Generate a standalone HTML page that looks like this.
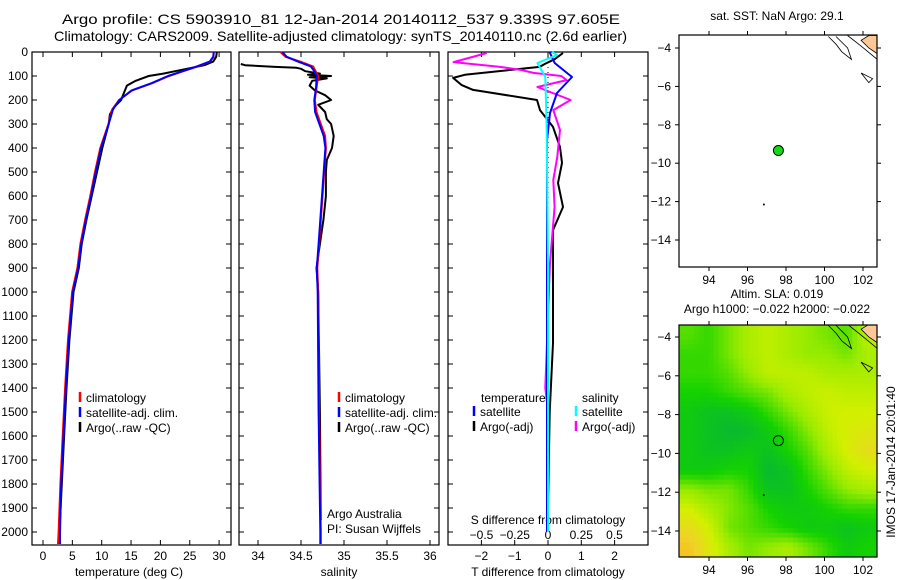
<!DOCTYPE html>
<html><head><meta charset="utf-8"><style>
html,body{margin:0;padding:0;background:#fff;}
svg{display:block;font-family:"Liberation Sans",sans-serif;font-size:12px;}
</style></head><body>
<svg id="fig" width="900" height="580" viewBox="0 0 900 580">
<g>
<text x="62" y="24" font-size="14" textLength="558" lengthAdjust="spacingAndGlyphs">Argo profile: CS 5903910_81 12-Jan-2014 20140112_537 9.339S 97.605E</text>
<text x="54" y="41" font-size="14" textLength="573" lengthAdjust="spacingAndGlyphs">Climatology: CARS2009. Satellite-adjusted climatology: synTS_20140110.nc (2.6d earlier)</text>
</g>
</svg>
<script>
// ---- data ----
const tempClimDepth=[0,20,40,60,80,100,130,160,200,240,300,400,500,600,700,800,900,1000,1200,1400,1600,1800,2000,2050];
const tempClimVals=[29.2,29.2,28.6,26.5,24,21.6,18.7,15.3,13.1,11.9,11.3,9.9,9.0,8.2,7.3,6.5,6.0,5.1,4.4,3.9,3.5,3.1,2.8,2.7];
const tempSatVals=[29.1,29.0,28.4,26.2,23.8,21.3,18.5,15.1,13.0,11.9,11.2,9.9,9.0,8.2,7.3,6.5,6.0,5.1,4.4,3.9,3.5,3.1,2.9,2.9];
const tempArgoDepth=[0,20,40,55,70,80,90,100,120,140,170,200,230,260,300,400,500,600,700,800,900,1000,1200,1400,1600,1800,1950];
const tempArgoVals=[29.6,29.5,29.0,27.5,24.5,22.5,20.5,18.0,15.8,14.3,13.8,13.3,12.1,11.4,11.2,10.1,9.2,8.3,7.4,6.6,6.1,5.2,4.5,4.0,3.6,3.2,2.9];
const salClimDepth=[0,20,40,60,80,100,150,200,250,300,350,400,500,600,700,800,900,1000,1500,2000,2050];
const salClimVals=[34.26,34.32,34.49,34.64,34.67,34.70,34.68,34.66,34.68,34.73,34.78,34.79,34.77,34.75,34.73,34.71,34.69,34.70,34.71,34.73,34.73];
const salSatVals=[34.29,34.34,34.47,34.62,34.66,34.69,34.68,34.66,34.67,34.72,34.77,34.79,34.77,34.75,34.73,34.71,34.69,34.70,34.71,34.73,34.73];
const salArgoDepth=[50,55,62,66,70,80,90,95,100,105,110,120,140,160,180,200,220,250,280,300,350,400,450,500,600,700,800,900,1000,1500,1950];
const salArgoVals=[33.8,33.85,34.2,34.45,34.5,34.55,34.72,34.58,34.85,34.6,34.8,34.63,34.6,34.66,34.78,34.85,34.7,34.78,34.8,34.85,34.88,34.86,34.8,34.79,34.79,34.76,34.72,34.68,34.70,34.72,34.73];
const dTSatDepth=[0,4,46,104,171,254,367,1000,2000];
const dTSatVals=[0.05,0.06,0.2,0.72,0.27,0.06,-0.03,-0.03,-0.03];
const dTArgoDepth=[4,30,50,62,80,95,108,137,158,200,242,312,396,462,546,646,742,1021,1212,1500,1900];
const dTArgoVals=[0.45,0.2,-0.1,-0.25,-1.5,-2.5,-2.85,-2.6,-2.25,-0.33,-0.24,0.15,0.36,0.42,0.3,0.45,0.15,0.15,0.15,0.05,0.0];
const dSArgoDepth=[4,42,62,75,87,100,117,146,200,242,325,437,533,646,879,1100,1400,1450,1500];
const dSArgoVals=[-0.46,-0.71,-0.36,-0.2,-0.11,0.1,0.14,-0.08,0.17,0.04,0.09,0.07,0.04,0.05,0.015,0.0,-0.02,-0.01,0.0];
const dSSatDepth=[0,12,46,104,325,900,2000];
const dSSatVals=[0.03,0.07,-0.08,-0.02,-0.01,0.0,0.0];
const depthTicks=[0,100,200,300,400,500,600,700,800,900,1000,1100,1200,1300,1400,1500,1600,1700,1800,1900,2000];
const tempTicks=[0,5,10,15,20,25,30];
const salTicks=[34,34.5,35,35.5,36];
const salTickLabels=["34","34.5","35","35.5","36"];
const dTTicks=[-2,-1,0,1,2];
const dSTicks=[-0.5,-0.25,0,0.25,0.5];
const dSTickLabels=["-0.5","-0.25","0","0.25","0.5"];
const lonTicks=[94,96,98,100,102];
const latTicks=[-4,-6,-8,-10,-12,-14];
const argoLon=97.605, argoLat=-9.339;
const slaGrid=[
[.35,.3,.4,.5,.55,.5,.45,.4,.35,.55],
[.3,.3,.4,.5,.55,.5,.45,.45,.4,.5],
[.3,.3,.35,.45,.55,.55,.55,.5,.5,.5],
[.25,.25,.3,.35,.4,.5,.55,.58,.55,.55],
[.2,.15,.15,.2,.3,.4,.5,.58,.6,.6],
[.2,.15,.1,.12,.2,.3,.42,.55,.62,.65],
[.2,.15,.15,.2,.15,.25,.35,.5,.62,.7],
[.2,.2,.25,.25,.1,.15,.3,.42,.55,.6],
[.45,.4,.4,.3,.15,.15,.25,.35,.45,.5],
[.6,.5,.42,.35,.25,.2,.2,.25,.3,.3],
[.7,.6,.4,.35,.3,.25,.2,.2,.15,.2],
[.8,.65,.5,.4,.45,.5,.4,.3,.2,.25]];

const NS="http://www.w3.org/2000/svg";
const svg=document.getElementById('fig');
function mk(tag,attrs,parent){const e=document.createElementNS(NS,tag);for(const k in attrs)e.setAttribute(k,attrs[k]);(parent||svg).appendChild(e);return e;}
function txt(s,x,y,anchor,parent,size){const t=mk('text',{x:x,y:y,'text-anchor':anchor||'start'},parent);if(size)t.setAttribute('font-size',size);t.textContent=s;return t;}

const yD=d=>52+d*0.24;
const PB=545;
function frame(x0,x1,name){
 const g=mk('g',{});
 
 
 mk('rect',{x:x0,y:52,width:x1-x0,height:PB-52,fill:'none',stroke:'#000','stroke-width':1.2},g);
 depthTicks.forEach(d=>{mk('line',{x1:x0,x2:x0+5,y1:yD(d),y2:yD(d),stroke:'#000'},g);mk('line',{x1:x1-5,x2:x1,y1:yD(d),y2:yD(d),stroke:'#000'},g);});
 return g;
}
function poly(g,xs,ds,fx,color,w,name){
 const pts=xs.map((v,i)=>fx(v).toFixed(1)+','+yD(ds[i]).toFixed(1)).join(' ');
 const p=mk('polyline',{points:pts,fill:'none',stroke:color,'stroke-width':w||2,'stroke-linejoin':'round'},g);
 
 
}
function legend(g,x,y,color,label,name){
 const lg=mk('g',{},g);
 
 
 mk('line',{x1:x,x2:x,y1:y-10,y2:y,stroke:color,'stroke-width':2.5},lg);
 txt(label,x+6,y,'start',lg);
}

// Panel 1 temperature
const xT=t=>43+t*5.87;
const g1=frame(32,231,'temperature-panel');
const yax=mk('g',{});


depthTicks.forEach(d=>txt(String(d),28,yD(d)+4,'end',yax));
tempTicks.forEach(t=>{mk('line',{x1:xT(t),x2:xT(t),y1:52,y2:57,stroke:'#000'},g1);mk('line',{x1:xT(t),x2:xT(t),y1:PB-5,y2:PB,stroke:'#000'},g1);txt(String(t),xT(t),560,'middle',g1);});
txt('temperature (deg C)',129,576,'middle',g1);
poly(g1,tempArgoVals,tempArgoDepth,xT,'#000',2,'temp-argo-line');
poly(g1,tempClimVals,tempClimDepth,v=>xT(v)-0.8,'#f00',2,'temp-climatology-line');
poly(g1,tempSatVals,tempClimDepth,xT,'#00f',2,'temp-satellite-line');
legend(g1,80,402,'#f00','climatology','legend-climatology');
legend(g1,80,417,'#00f','satellite-adj. clim.','legend-satellite');
legend(g1,80,432,'#000','Argo(..raw -QC)','legend-argo');

// Panel 2 salinity
const xS=s=>258+(s-34)*86;
const g2=frame(239,439,'salinity-panel');
salTicks.forEach((s,i)=>{mk('line',{x1:xS(s),x2:xS(s),y1:52,y2:57,stroke:'#000'},g2);mk('line',{x1:xS(s),x2:xS(s),y1:PB-5,y2:PB,stroke:'#000'},g2);txt(salTickLabels[i],xS(s),560,'middle',g2);});
txt('salinity',339,576,'middle',g2);
poly(g2,salArgoVals,salArgoDepth,xS,'#000',2,'sal-argo-line');
poly(g2,salClimVals,salClimDepth,xS,'#f00',2,'sal-climatology-line');
poly(g2,salSatVals,salClimDepth,v=>xS(v)-0.5,'#00f',2,'sal-satellite-line');
legend(g2,339,402,'#f00','climatology','legend-sal-climatology');
legend(g2,339,417,'#00f','satellite-adj. clim.','legend-sal-satellite');
legend(g2,339,432,'#000','Argo(..raw -QC)','legend-sal-argo');
txt('Argo Australia',327,518,'start',g2);
txt('PI: Susan Wijffels',327,533,'start',g2);

// Panel 3 differences
const xDT=v=>548+v*33.3;
const xDS=v=>548+v*133;
const g3=frame(448,648,'difference-panel');
dTTicks.forEach(v=>{mk('line',{x1:xDT(v),x2:xDT(v),y1:52,y2:57,stroke:'#000'},g3);mk('line',{x1:xDT(v),x2:xDT(v),y1:PB-5,y2:PB,stroke:'#000'},g3);txt(String(v).replace('-','\u2212'),xDT(v),560,'middle',g3);});
dSTicks.forEach((v,i)=>txt(dSTickLabels[i].replace('-','\u2212'),xDS(v),539,'middle',g3));
txt('S difference from climatology',548,524,'middle',g3);
txt('T difference from climatology',548,576,'middle',g3);
mk('line',{x1:548,x2:548,y1:52,y2:300,stroke:'#000','stroke-dasharray':'1,4'},g3);
poly(g3,dTArgoVals,dTArgoDepth,xDT,'#000',2,'dT-argo-line');
poly(g3,dSArgoVals,dSArgoDepth,xDS,'#f0f',2,'dS-argo-line');
poly(g3,dTSatVals,dTSatDepth,xDT,'#00f',2,'dT-satellite-line');
poly(g3,dSSatVals,dSSatDepth,xDS,'#0ff',2,'dS-satellite-line');
txt('temperature',481,402,'start',g3);
txt('salinity',582,402,'start',g3);
legend(g3,474,416,'#00f','satellite','legend-dT-satellite');
legend(g3,474,431,'#000','Argo(-adj)','legend-dT-argo');
legend(g3,576,416,'#0ff','satellite','legend-dS-satellite');
legend(g3,576,431,'#f0f','Argo(-adj)','legend-dS-argo');

// Maps
const xL=lon=>709+(lon-94)*19.25;
function mapFrame(name){
 const g=mk('g',{});
 
 
 return g;
}
function mapAxes(g,y0,y1,latY){
 mk('rect',{x:679,y:y0,width:198,height:y1-y0,fill:'none',stroke:'#000','stroke-width':1.2},g);
 lonTicks.forEach(l=>{mk('line',{x1:xL(l),x2:xL(l),y1:y0-4,y2:y0,stroke:'#000'},g);mk('line',{x1:xL(l),x2:xL(l),y1:y1,y2:y1+4,stroke:'#000'},g);txt(String(l),xL(l),y1+17,'middle',g);});
 latTicks.forEach(l=>{mk('line',{x1:675,x2:679,y1:latY(l),y2:latY(l),stroke:'#000'},g);mk('line',{x1:877,x2:881,y1:latY(l),y2:latY(l),stroke:'#000'},g);txt(String(l).replace('-','\u2212'),671,latY(l)+4,'end',g);});
}
function coast(g,latY,clipId){
 const L=(lon,lat)=>xL(lon).toFixed(1)+','+latY(lat).toFixed(1);
 mk('path',{d:'M'+L(102.3,-3.35)+' L'+L(102.75,-3.35)+' L'+L(102.75,-4.3)+' L'+L(102.3,-4.0)+' L'+L(101.9,-3.6)+'Z',fill:'#fdc896',stroke:'#000','stroke-width':0.8,'clip-path':'url(#'+clipId+')'},g);
 mk('path',{d:'M'+L(101.2,-3.35)+' L'+L(101.9,-3.9)+' L'+L(102.75,-4.6),fill:'none',stroke:'#000','stroke-width':0.8,'clip-path':'url(#'+clipId+')'},g);
 mk('path',{d:'M'+L(100.6,-3.4)+' L'+L(101.2,-4.0)+' L'+L(101.4,-4.6)+' L'+L(100.9,-4.2)+' L'+L(100.6,-3.8)+' L'+L(100.2,-3.4),fill:'none',stroke:'#000','stroke-width':0.8},g);
 mk('path',{d:'M'+L(101.9,-5.3)+' L'+L(102.5,-5.6)+' L'+L(102.3,-5.8)+'Z',fill:'none',stroke:'#000','stroke-width':0.8},g);
 mk('circle',{cx:xL(96.85),cy:latY(-12.15),r:1,fill:'#000'},g);
}
const defs=mk('defs',{});
const c1=mk('clipPath',{id:'clipTop'},defs);mk('rect',{x:679,y:35,width:198,height:232},c1);
const c2=mk('clipPath',{id:'clipBot'},defs);mk('rect',{x:679,y:325,width:198,height:232},c2);

const latTop=lat=>48+(-4-lat)*19.2;
const gm1=mapFrame('sst-map');
txt('sat. SST: NaN Argo: 29.1',777,20,'middle',gm1);
coast(gm1,latTop,'clipTop');
mapAxes(gm1,35,267,latTop);
const dot=mk('circle',{cx:xL(argoLon),cy:latTop(argoLat),r:5,fill:'#11dd11',stroke:'#000','stroke-width':1},gm1);



const latBot=lat=>337+(-4-lat)*19.4;
const gm2=mapFrame('sla-map');
txt('Altim. SLA: 0.019',777,298,'middle',gm2);
txt('Argo h1000: \u22120.022 h2000: \u22120.022',777,313,'middle',gm2);
function cmap(v){
 const stops=[[0,[0,170,80]],[0.25,[20,210,0]],[0.45,[150,235,0]],[0.6,[210,240,0]],[0.75,[240,210,40]],[1,[255,150,0]]];
 for(let i=1;i<stops.length;i++){if(v<=stops[i][0]){const a=stops[i-1],b=stops[i];const f=(v-a[0])/(b[0]-a[0]);return 'rgb('+a[1].map((c,k)=>Math.round(c+(b[1][k]-c)*f)).join(',')+')';}}
 return 'rgb(255,150,0)';
}
const hg=mk('g',{'clip-path':'url(#clipBot)'},gm2);


const rows=slaGrid.length, cols=slaGrid[0].length;
const sub=4;
const cw=198/(cols*sub), ch=232/(rows*sub);
function sample(r,c){r=Math.max(0,Math.min(rows-1,r));c=Math.max(0,Math.min(cols-1,c));const r0=Math.floor(r),c0=Math.floor(c),r1=Math.min(rows-1,r0+1),c1=Math.min(cols-1,c0+1);const fr=r-r0,fc=c-c0;return slaGrid[r0][c0]*(1-fr)*(1-fc)+slaGrid[r0][c1]*(1-fr)*fc+slaGrid[r1][c0]*fr*(1-fc)+slaGrid[r1][c1]*fr*fc;}
for(let i=0;i<rows*sub;i++)for(let j=0;j<cols*sub;j++){
 const v=sample((i+0.5)/sub-0.5,(j+0.5)/sub-0.5);
 const cell=mk('rect',{x:(679+j*cw).toFixed(2),y:(325+i*ch).toFixed(2),width:(cw+0.6).toFixed(2),height:(ch+0.6).toFixed(2),fill:cmap(v)},hg);
 
 
}
coast(gm2,latBot,'clipBot');
mapAxes(gm2,325,557,latBot);
const ring=mk('circle',{cx:xL(argoLon),cy:latBot(argoLat),r:5,fill:'none',stroke:'#000','stroke-width':1},gm2);


const stamp=txt('IMOS 17-Jan-2014 20:01:40',0,0,'middle',gm2);
stamp.setAttribute('transform','translate(895,462) rotate(-90)');


</script>
</body></html>
